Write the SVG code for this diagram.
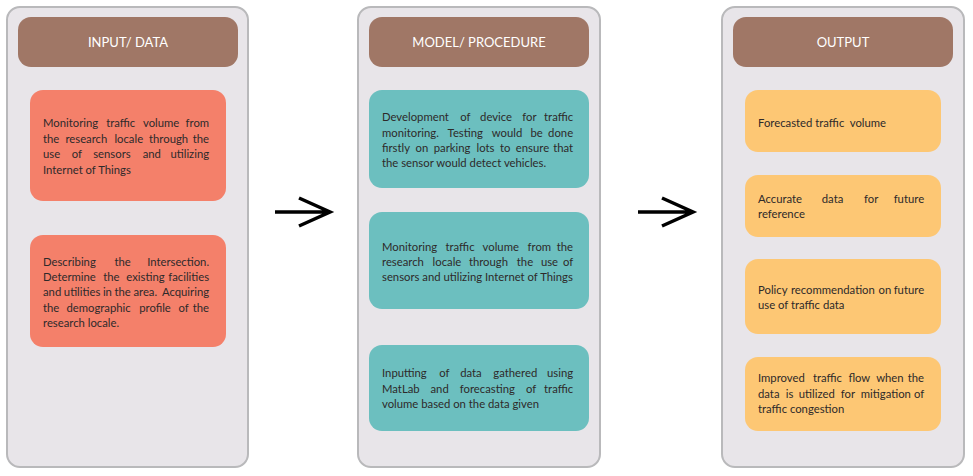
<svg xmlns="http://www.w3.org/2000/svg" width="973" height="476" viewBox="0 0 973 476">
<style>
.panel{fill:#e8e5e9;stroke:#b9b9bb;stroke-width:2}
.hdr{fill:#a07766}
.hdrt{font-family:Lato,"Open Sans",sans-serif;font-size:13px;fill:#ffffff;text-anchor:middle}
.in{fill:#f4806a}
.md{fill:#6cbfbf}
.out{fill:#fdc774}
.t{font-family:Lato,"Open Sans",sans-serif;font-size:11.3px;fill:#2e2a2a}
.e{text-anchor:end}
.arrow{fill:none;stroke:#000;stroke-width:3.5}
</style>
<rect width="973" height="476" fill="#ffffff"/>
<g id="panel-input"><rect class="panel" x="7" y="7" width="241" height="460" rx="13"/></g>
<g id="panel-model"><rect class="panel" x="358" y="7" width="242" height="460" rx="13"/></g>
<g id="panel-output"><rect class="panel" x="722" y="7" width="242" height="460" rx="13"/></g>

<g id="header-input"><rect class="hdr" x="18" y="17" width="220" height="50" rx="13"/><text class="hdrt" x="128" y="47">INPUT/ DATA</text></g>
<g id="header-model"><rect class="hdr" x="369" y="17" width="220" height="50" rx="13"/><text class="hdrt" x="479" y="47">MODEL/ PROCEDURE</text></g>
<g id="header-output"><rect class="hdr" x="733" y="17" width="220" height="50" rx="13"/><text class="hdrt" x="843" y="47">OUTPUT</text></g>

<g id="input-1"><rect class="in" x="30" y="90" width="196" height="111" rx="13"/>
<text class="t">
<tspan x="43" y="127">Monitoring</tspan><tspan x="106.2" y="127">traffic</tspan><tspan x="143" y="127">volume</tspan><tspan class="e" x="212" y="127">from</tspan>
<tspan x="43" y="143">the</tspan><tspan x="65.4" y="143">research</tspan><tspan x="114.4" y="143">locale</tspan><tspan x="149" y="143">through</tspan><tspan class="e" x="212" y="143">the</tspan>
<tspan x="43" y="158">use</tspan><tspan x="71.8" y="158">of</tspan><tspan x="93.2" y="158">sensors</tspan><tspan x="142.7" y="158">and</tspan><tspan class="e" x="212" y="158">utilizing</tspan>
<tspan x="43" y="174">Internet of Things</tspan></text></g>

<g id="input-2"><rect class="in" x="30" y="235" width="196" height="112" rx="13"/>
<text class="t">
<tspan x="43" y="266">Describing</tspan><tspan x="114.4" y="266">the</tspan><tspan class="e" x="212" y="266">Intersection.</tspan>
<tspan x="43" y="281">Determine</tspan><tspan x="103.2" y="281">the</tspan><tspan x="126.3" y="281">existing</tspan><tspan class="e" x="212" y="281">facilities</tspan>
<tspan x="43" y="296" word-spacing="-0.3">and utilities in the area.</tspan><tspan class="e" x="212" y="296">Acquiring</tspan>
<tspan x="43" y="312">the</tspan><tspan x="66.5" y="312">demographic</tspan><tspan x="139.2" y="312">profile</tspan><tspan x="178.4" y="312">of</tspan><tspan class="e" x="212" y="312">the</tspan>
<tspan x="43" y="327">research locale.</tspan></text></g>

<g id="model-1"><rect class="md" x="369" y="90" width="220" height="98" rx="13"/>
<text class="t">
<tspan x="382" y="121">Development</tspan><tspan x="460.2" y="121">of</tspan><tspan x="480.1" y="121">device</tspan><tspan x="522.3" y="121">for</tspan><tspan class="e" x="576" y="121">traffic</tspan>
<tspan x="382" y="137">monitoring.</tspan><tspan x="447.6" y="137">Testing</tspan><tspan x="491.8" y="137">would</tspan><tspan x="530.5" y="137">be</tspan><tspan class="e" x="576" y="137">done</tspan>
<tspan x="382" y="152">firstly</tspan><tspan x="415.5" y="152">on</tspan><tspan x="433.7" y="152">parking</tspan><tspan x="476.6" y="152">lots</tspan><tspan x="500" y="152">to</tspan><tspan x="515.8" y="152">ensure</tspan><tspan class="e" x="576" y="152">that</tspan>
<tspan x="382" y="167">the sensor would detect vehicles.</tspan></text></g>

<g id="model-2"><rect class="md" x="369" y="212" width="220" height="97" rx="13"/>
<text class="t">
<tspan x="382" y="251">Monitoring</tspan><tspan x="445.5" y="251">traffic</tspan><tspan x="482.6" y="251">volume</tspan><tspan x="527.6" y="251">from</tspan><tspan class="e" x="576" y="251">the</tspan>
<tspan x="382" y="266">research</tspan><tspan x="432.6" y="266">locale</tspan><tspan x="468.9" y="266">through</tspan><tspan x="516.8" y="266">the</tspan><tspan x="540.9" y="266">use</tspan><tspan class="e" x="576" y="266">of</tspan>
<tspan x="382" y="281">sensors and utilizing Internet of Things</tspan></text></g>

<g id="model-3"><rect class="md" x="369" y="345" width="220" height="86" rx="13"/>
<text class="t">
<tspan x="382" y="377">Inputting</tspan><tspan x="439.2" y="377">of</tspan><tspan x="460.2" y="377">data</tspan><tspan x="493.3" y="377">gathered</tspan><tspan class="e" x="576" y="377">using</tspan>
<tspan x="382" y="393">MatLab</tspan><tspan x="430.5" y="393">and</tspan><tspan x="459.8" y="393">forecasting</tspan><tspan x="525.9" y="393">of</tspan><tspan class="e" x="576" y="393">traffic</tspan>
<tspan x="382" y="408">volume based on the data given</tspan></text></g>

<g id="output-1"><rect class="out" x="745" y="90" width="196" height="62" rx="13"/>
<text class="t" x="758" y="127" xml:space="preserve">Forecasted traffic  volume</text></g>

<g id="output-2"><rect class="out" x="745" y="175" width="196" height="62" rx="13"/>
<text class="t">
<tspan x="758" y="203">Accurate</tspan><tspan x="821.8" y="203">data</tspan><tspan x="864" y="203">for</tspan><tspan class="e" x="927" y="203">future</tspan>
<tspan x="758" y="218">reference</tspan></text></g>

<g id="output-3"><rect class="out" x="745" y="259" width="196" height="75" rx="13"/>
<text class="t">
<tspan x="758" y="294" word-spacing="0.8">Policy recommendation on</tspan><tspan class="e" x="927" y="294">future</tspan>
<tspan x="758" y="309">use of traffic data</tspan></text></g>

<g id="output-4"><rect class="out" x="745" y="357" width="196" height="74" rx="13"/>
<text class="t">
<tspan x="758" y="382">Improved</tspan><tspan x="812.9" y="382">traffic</tspan><tspan x="848.4" y="382">flow</tspan><tspan x="876.2" y="382">when</tspan><tspan class="e" x="927" y="382">the</tspan>
<tspan x="758" y="398">data</tspan><tspan x="785.7" y="398">is</tspan><tspan x="798.8" y="398">utilized</tspan><tspan x="840.8" y="398">for</tspan><tspan x="860.8" y="398">mitigation</tspan><tspan class="e" x="927" y="398">of</tspan>
<tspan x="758" y="413">traffic congestion</tspan></text></g>

<g id="connectors">
<path class="arrow" d="M275 212 H330 M299 198 L330 212 L299 226"/>
<path class="arrow" d="M638 212 H693 M662 198 L693 212 L662 226"/>
</g>
</svg>
